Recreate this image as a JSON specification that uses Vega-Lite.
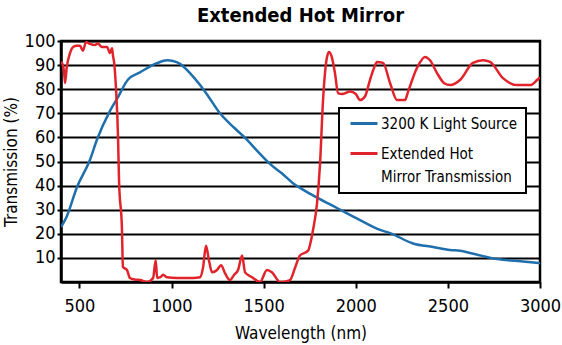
{
  "$schema": "https://vega.github.io/schema/vega-lite/v6.json",
  "width": 479,
  "height": 241,
  "autosize": {"type": "none"},
  "padding": {"left": 61, "top": 41, "right": 22, "bottom": 63},
  "background": "white",
  "title": {
    "text": "Extended Hot Mirror",
    "font": "DejaVu Sans Condensed",
    "fontSize": 20,
    "fontWeight": "bold",
    "color": "black",
    "anchor": "middle",
    "offset": 6
  },
  "config": {
    "view": {"stroke": "black", "strokeWidth": 2.5},
    "font": "DejaVu Sans Condensed",
    "axis": {
      "labelFont": "DejaVu Sans Condensed",
      "titleFont": "DejaVu Sans Condensed",
      "labelColor": "black",
      "titleColor": "black",
      "labelFontWeight": "normal",
      "titleFontWeight": "normal",
      "domainColor": "black",
      "domainWidth": 2.5,
      "tickColor": "black",
      "tickWidth": 2,
      "gridColor": "black",
      "gridWidth": 2,
      "gridOpacity": 1
    }
  },
  "data": {
    "values": [
      {"s": "3200 K Light Source", "wl": 400, "t": 22.8},
      {"s": "3200 K Light Source", "wl": 430, "t": 27},
      {"s": "3200 K Light Source", "wl": 487, "t": 39.4},
      {"s": "3200 K Light Source", "wl": 557, "t": 50.6},
      {"s": "3200 K Light Source", "wl": 595, "t": 59},
      {"s": "3200 K Light Source", "wl": 666, "t": 71},
      {"s": "3200 K Light Source", "wl": 704, "t": 76},
      {"s": "3200 K Light Source", "wl": 764, "t": 84},
      {"s": "3200 K Light Source", "wl": 829, "t": 87},
      {"s": "3200 K Light Source", "wl": 921, "t": 90.8},
      {"s": "3200 K Light Source", "wl": 975, "t": 92},
      {"s": "3200 K Light Source", "wl": 1008, "t": 91.7},
      {"s": "3200 K Light Source", "wl": 1046, "t": 90.5},
      {"s": "3200 K Light Source", "wl": 1100, "t": 86.7},
      {"s": "3200 K Light Source", "wl": 1155, "t": 81.7},
      {"s": "3200 K Light Source", "wl": 1200, "t": 77},
      {"s": "3200 K Light Source", "wl": 1263, "t": 70},
      {"s": "3200 K Light Source", "wl": 1340, "t": 64},
      {"s": "3200 K Light Source", "wl": 1410, "t": 59},
      {"s": "3200 K Light Source", "wl": 1470, "t": 54},
      {"s": "3200 K Light Source", "wl": 1534, "t": 49},
      {"s": "3200 K Light Source", "wl": 1600, "t": 45},
      {"s": "3200 K Light Source", "wl": 1659, "t": 41},
      {"s": "3200 K Light Source", "wl": 1720, "t": 38},
      {"s": "3200 K Light Source", "wl": 1790, "t": 35},
      {"s": "3200 K Light Source", "wl": 1898, "t": 30.7},
      {"s": "3200 K Light Source", "wl": 2023, "t": 25.7},
      {"s": "3200 K Light Source", "wl": 2132, "t": 21.6},
      {"s": "3200 K Light Source", "wl": 2186, "t": 20.3},
      {"s": "3200 K Light Source", "wl": 2311, "t": 16},
      {"s": "3200 K Light Source", "wl": 2420, "t": 14.5},
      {"s": "3200 K Light Source", "wl": 2512, "t": 13.3},
      {"s": "3200 K Light Source", "wl": 2566, "t": 13},
      {"s": "3200 K Light Source", "wl": 2650, "t": 11.5},
      {"s": "3200 K Light Source", "wl": 2767, "t": 9.5},
      {"s": "3200 K Light Source", "wl": 2880, "t": 8.7},
      {"s": "3200 K Light Source", "wl": 3000, "t": 7.8},
      {"s": "Extended Hot Mirror Transmission", "wl": 400, "t": 91.4},
      {"s": "Extended Hot Mirror Transmission", "wl": 410, "t": 90},
      {"s": "Extended Hot Mirror Transmission", "wl": 417, "t": 87},
      {"s": "Extended Hot Mirror Transmission", "wl": 422, "t": 82.6},
      {"s": "Extended Hot Mirror Transmission", "wl": 431, "t": 89},
      {"s": "Extended Hot Mirror Transmission", "wl": 449, "t": 95},
      {"s": "Extended Hot Mirror Transmission", "wl": 466, "t": 97.5},
      {"s": "Extended Hot Mirror Transmission", "wl": 485, "t": 98},
      {"s": "Extended Hot Mirror Transmission", "wl": 503, "t": 98},
      {"s": "Extended Hot Mirror Transmission", "wl": 519, "t": 96},
      {"s": "Extended Hot Mirror Transmission", "wl": 536, "t": 99.6},
      {"s": "Extended Hot Mirror Transmission", "wl": 557, "t": 98.8},
      {"s": "Extended Hot Mirror Transmission", "wl": 584, "t": 98.3},
      {"s": "Extended Hot Mirror Transmission", "wl": 600, "t": 99},
      {"s": "Extended Hot Mirror Transmission", "wl": 622, "t": 97.5},
      {"s": "Extended Hot Mirror Transmission", "wl": 650, "t": 97.5},
      {"s": "Extended Hot Mirror Transmission", "wl": 666, "t": 95},
      {"s": "Extended Hot Mirror Transmission", "wl": 677, "t": 97},
      {"s": "Extended Hot Mirror Transmission", "wl": 682, "t": 94},
      {"s": "Extended Hot Mirror Transmission", "wl": 690, "t": 90},
      {"s": "Extended Hot Mirror Transmission", "wl": 698, "t": 81},
      {"s": "Extended Hot Mirror Transmission", "wl": 710, "t": 59},
      {"s": "Extended Hot Mirror Transmission", "wl": 715, "t": 42},
      {"s": "Extended Hot Mirror Transmission", "wl": 731, "t": 21.6},
      {"s": "Extended Hot Mirror Transmission", "wl": 736, "t": 6.2},
      {"s": "Extended Hot Mirror Transmission", "wl": 758, "t": 5},
      {"s": "Extended Hot Mirror Transmission", "wl": 774, "t": 1.7},
      {"s": "Extended Hot Mirror Transmission", "wl": 800, "t": 1},
      {"s": "Extended Hot Mirror Transmission", "wl": 829, "t": 0.8},
      {"s": "Extended Hot Mirror Transmission", "wl": 867, "t": 0},
      {"s": "Extended Hot Mirror Transmission", "wl": 900, "t": 1.7},
      {"s": "Extended Hot Mirror Transmission", "wl": 914, "t": 9},
      {"s": "Extended Hot Mirror Transmission", "wl": 922, "t": 1.7},
      {"s": "Extended Hot Mirror Transmission", "wl": 940, "t": 2},
      {"s": "Extended Hot Mirror Transmission", "wl": 954, "t": 3},
      {"s": "Extended Hot Mirror Transmission", "wl": 975, "t": 2},
      {"s": "Extended Hot Mirror Transmission", "wl": 1030, "t": 1.7},
      {"s": "Extended Hot Mirror Transmission", "wl": 1117, "t": 1.7},
      {"s": "Extended Hot Mirror Transmission", "wl": 1155, "t": 2},
      {"s": "Extended Hot Mirror Transmission", "wl": 1171, "t": 6},
      {"s": "Extended Hot Mirror Transmission", "wl": 1187, "t": 15},
      {"s": "Extended Hot Mirror Transmission", "wl": 1203, "t": 9},
      {"s": "Extended Hot Mirror Transmission", "wl": 1220, "t": 4},
      {"s": "Extended Hot Mirror Transmission", "wl": 1247, "t": 5},
      {"s": "Extended Hot Mirror Transmission", "wl": 1269, "t": 7},
      {"s": "Extended Hot Mirror Transmission", "wl": 1290, "t": 3.7},
      {"s": "Extended Hot Mirror Transmission", "wl": 1317, "t": 0.8},
      {"s": "Extended Hot Mirror Transmission", "wl": 1340, "t": 3},
      {"s": "Extended Hot Mirror Transmission", "wl": 1361, "t": 5},
      {"s": "Extended Hot Mirror Transmission", "wl": 1383, "t": 11},
      {"s": "Extended Hot Mirror Transmission", "wl": 1399, "t": 4},
      {"s": "Extended Hot Mirror Transmission", "wl": 1437, "t": 2},
      {"s": "Extended Hot Mirror Transmission", "wl": 1480, "t": 0},
      {"s": "Extended Hot Mirror Transmission", "wl": 1518, "t": 5},
      {"s": "Extended Hot Mirror Transmission", "wl": 1545, "t": 4},
      {"s": "Extended Hot Mirror Transmission", "wl": 1589, "t": 0},
      {"s": "Extended Hot Mirror Transmission", "wl": 1643, "t": 0.8},
      {"s": "Extended Hot Mirror Transmission", "wl": 1670, "t": 5.8},
      {"s": "Extended Hot Mirror Transmission", "wl": 1697, "t": 11},
      {"s": "Extended Hot Mirror Transmission", "wl": 1741, "t": 13},
      {"s": "Extended Hot Mirror Transmission", "wl": 1768, "t": 21.6},
      {"s": "Extended Hot Mirror Transmission", "wl": 1790, "t": 32.8},
      {"s": "Extended Hot Mirror Transmission", "wl": 1806, "t": 49},
      {"s": "Extended Hot Mirror Transmission", "wl": 1822, "t": 75},
      {"s": "Extended Hot Mirror Transmission", "wl": 1844, "t": 93.4},
      {"s": "Extended Hot Mirror Transmission", "wl": 1855, "t": 95.4},
      {"s": "Extended Hot Mirror Transmission", "wl": 1871, "t": 93},
      {"s": "Extended Hot Mirror Transmission", "wl": 1887, "t": 86.7},
      {"s": "Extended Hot Mirror Transmission", "wl": 1904, "t": 78.4},
      {"s": "Extended Hot Mirror Transmission", "wl": 1925, "t": 78},
      {"s": "Extended Hot Mirror Transmission", "wl": 1969, "t": 79},
      {"s": "Extended Hot Mirror Transmission", "wl": 2000, "t": 78},
      {"s": "Extended Hot Mirror Transmission", "wl": 2023, "t": 75.5},
      {"s": "Extended Hot Mirror Transmission", "wl": 2050, "t": 77},
      {"s": "Extended Hot Mirror Transmission", "wl": 2077, "t": 83.8},
      {"s": "Extended Hot Mirror Transmission", "wl": 2100, "t": 89},
      {"s": "Extended Hot Mirror Transmission", "wl": 2115, "t": 91.3},
      {"s": "Extended Hot Mirror Transmission", "wl": 2148, "t": 90.9},
      {"s": "Extended Hot Mirror Transmission", "wl": 2186, "t": 82.6},
      {"s": "Extended Hot Mirror Transmission", "wl": 2224, "t": 75.5},
      {"s": "Extended Hot Mirror Transmission", "wl": 2267, "t": 75.5},
      {"s": "Extended Hot Mirror Transmission", "wl": 2284, "t": 79},
      {"s": "Extended Hot Mirror Transmission", "wl": 2332, "t": 88.8},
      {"s": "Extended Hot Mirror Transmission", "wl": 2376, "t": 93.4},
      {"s": "Extended Hot Mirror Transmission", "wl": 2403, "t": 92},
      {"s": "Extended Hot Mirror Transmission", "wl": 2441, "t": 86.7},
      {"s": "Extended Hot Mirror Transmission", "wl": 2480, "t": 82.5},
      {"s": "Extended Hot Mirror Transmission", "wl": 2512, "t": 81.7},
      {"s": "Extended Hot Mirror Transmission", "wl": 2566, "t": 83.8},
      {"s": "Extended Hot Mirror Transmission", "wl": 2636, "t": 90.9},
      {"s": "Extended Hot Mirror Transmission", "wl": 2691, "t": 92},
      {"s": "Extended Hot Mirror Transmission", "wl": 2729, "t": 91.3},
      {"s": "Extended Hot Mirror Transmission", "wl": 2799, "t": 84.6},
      {"s": "Extended Hot Mirror Transmission", "wl": 2875, "t": 81.7},
      {"s": "Extended Hot Mirror Transmission", "wl": 2946, "t": 81.7},
      {"s": "Extended Hot Mirror Transmission", "wl": 2984, "t": 83.8},
      {"s": "Extended Hot Mirror Transmission", "wl": 3000, "t": 85}
    ]
  },
  "mark": {"type": "line", "strokeWidth": 2.5, "interpolate": "monotone", "clip": true},
  "encoding": {
    "x": {
      "field": "wl",
      "type": "quantitative",
      "scale": {"domain": [400, 3000], "nice": false, "zero": false},
      "axis": {
        "title": "Wavelength (nm)",
        "values": [500, 1000, 1500, 2000, 2500, 3000],
        "grid": false,
        "tickSize": 6,
        "labelPadding": 9,
        "labelFontSize": 18,
        "titleFontSize": 17,
        "titlePadding": 10,
        "labelFlush": false,
        "format": "d"
      }
    },
    "y": {
      "field": "t",
      "type": "quantitative",
      "scale": {"domain": [0, 100], "nice": false},
      "axis": {
        "title": "Transmission (%)",
        "values": [10, 20, 30, 40, 50, 60, 70, 80, 90, 100],
        "tickSize": 4,
        "labelPadding": 2,
        "labelFontSize": 18,
        "titleFontSize": 17,
        "titlePadding": 4,
        "labelFlush": false
      }
    },
    "color": {
      "field": "s",
      "type": "nominal",
      "scale": {
        "domain": ["3200 K Light Source", "Extended Hot Mirror Transmission"],
        "range": ["#1f6fad", "#e1242b"]
      },
      "legend": {
        "title": null,
        "orient": "none",
        "legendX": 278,
        "legendY": 67,
        "fillColor": "white",
        "strokeColor": "black",
        "padding": 8,
        "symbolType": "M-0.8,0L4.6,0",
        "symbolStrokeWidth": 3,
        "symbolSize": 100,
        "labelFont": "DejaVu Sans Condensed",
        "labelFontSize": 15,
        "labelColor": "black",
        "labelOffset": 19,
        "labelLimit": 300,
        "rowPadding": 14,
        "labelBaseline": "middle",
        "labelExpr": "datum.label == 'Extended Hot Mirror Transmission' ? ['Extended Hot', 'Mirror Transmission'] : datum.label",
        "encode": {
          "legend": {"update": {"strokeWidth": {"value": 2}}},
          "labels": {"update": {
            "lineHeight": {"value": 23}
          }}
        }
      }
    }
  }
}
